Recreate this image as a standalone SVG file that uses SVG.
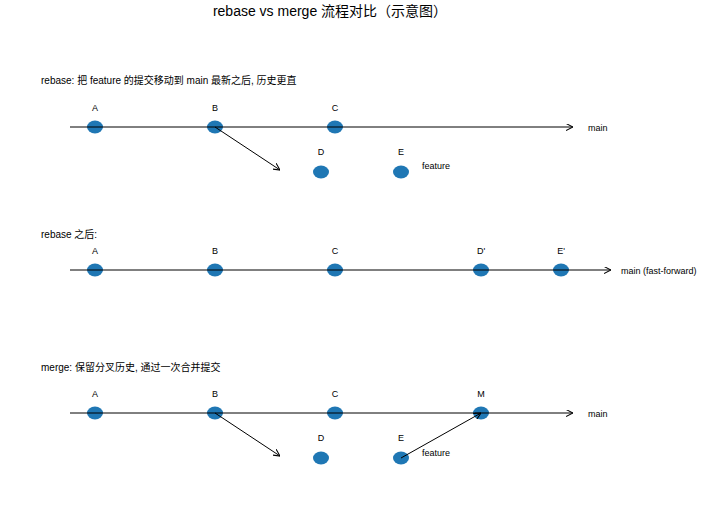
<svg xmlns="http://www.w3.org/2000/svg" width="711" height="508" viewBox="0 0 711 508">
<style>
text{font-family:"Liberation Sans","Noto Sans CJK SC",sans-serif;fill:#000}
.t{font-size:14px;text-anchor:middle}
.s{font-size:10px}
.l{font-size:9px;text-anchor:middle}
.r{font-size:9px}
.n{fill:#1f77b4}
.c{stroke:#000;stroke-width:1;fill:none;marker-end:url(#a)}
</style>
<defs><marker id="a" viewBox="0 0 10 10" refX="10" refY="5" markerWidth="7" markerHeight="7" orient="auto" markerUnits="userSpaceOnUse"><path d="M0,0L10,5L0,10" fill="none" stroke="#000" stroke-width="1.5"/></marker></defs>
<rect width="711" height="508" fill="#fff"/>
<text class="t" x="330" y="16">rebase vs merge 流程对比（示意图）</text>
<text class="s" x="41" y="84">rebase: 把 feature 的提交移动到 main 最新之后, 历史更直</text>
<text class="s" x="41" y="238">rebase 之后:</text>
<text class="s" x="41" y="371">merge: 保留分叉历史, 通过一次合并提交</text>
<g id="r1A"><ellipse class="n" cx="95" cy="127" rx="8" ry="6.5"/><text class="l" x="95" y="111">A</text></g>
<g id="r1B"><ellipse class="n" cx="215" cy="127" rx="8" ry="6.5"/><text class="l" x="215" y="111">B</text></g>
<g id="r1C"><ellipse class="n" cx="335" cy="127" rx="8" ry="6.5"/><text class="l" x="335" y="111">C</text></g>
<g id="r1D"><ellipse class="n" cx="321" cy="172" rx="8" ry="6.5"/><text class="l" x="321" y="155">D</text></g>
<g id="r1E"><ellipse class="n" cx="401" cy="172" rx="8" ry="6.5"/><text class="l" x="401" y="155">E</text></g>
<text class="r" x="588" y="131">main</text>
<text class="r" x="422" y="169">feature</text>
<g id="r2A"><ellipse class="n" cx="95" cy="270" rx="8" ry="6.5"/><text class="l" x="95" y="254">A</text></g>
<g id="r2B"><ellipse class="n" cx="215" cy="270" rx="8" ry="6.5"/><text class="l" x="215" y="254">B</text></g>
<g id="r2C"><ellipse class="n" cx="335" cy="270" rx="8" ry="6.5"/><text class="l" x="335" y="254">C</text></g>
<g id="r2D"><ellipse class="n" cx="481" cy="270" rx="8" ry="6.5"/><text class="l" x="481" y="254">D'</text></g>
<g id="r2E"><ellipse class="n" cx="561" cy="270" rx="8" ry="6.5"/><text class="l" x="561" y="254">E'</text></g>
<text class="r" x="621" y="274">main (fast-forward)</text>
<g id="m3A"><ellipse class="n" cx="95" cy="413" rx="8" ry="6.5"/><text class="l" x="95" y="397">A</text></g>
<g id="m3B"><ellipse class="n" cx="215" cy="413" rx="8" ry="6.5"/><text class="l" x="215" y="397">B</text></g>
<g id="m3C"><ellipse class="n" cx="335" cy="413" rx="8" ry="6.5"/><text class="l" x="335" y="397">C</text></g>
<g id="m3M"><ellipse class="n" cx="481" cy="413" rx="8" ry="6.5"/><text class="l" x="481" y="397">M</text></g>
<g id="m3D"><ellipse class="n" cx="321" cy="458" rx="8" ry="6.5"/><text class="l" x="321" y="441">D</text></g>
<g id="m3E"><ellipse class="n" cx="401" cy="458" rx="8" ry="6.5"/><text class="l" x="401" y="441">E</text></g>
<text class="r" x="588" y="417">main</text>
<text class="r" x="422" y="456">feature</text>
<g id="connectors">
<line class="c" x1="70" y1="127" x2="573" y2="127"/>
<line class="c" x1="215" y1="127" x2="280" y2="170"/>
<line class="c" x1="70" y1="270" x2="611" y2="270"/>
<line class="c" x1="70" y1="413" x2="573" y2="413"/>
<line class="c" x1="215" y1="413" x2="280" y2="456"/>
<line class="c" x1="401" y1="458" x2="481" y2="413"/>
</g>
</svg>
